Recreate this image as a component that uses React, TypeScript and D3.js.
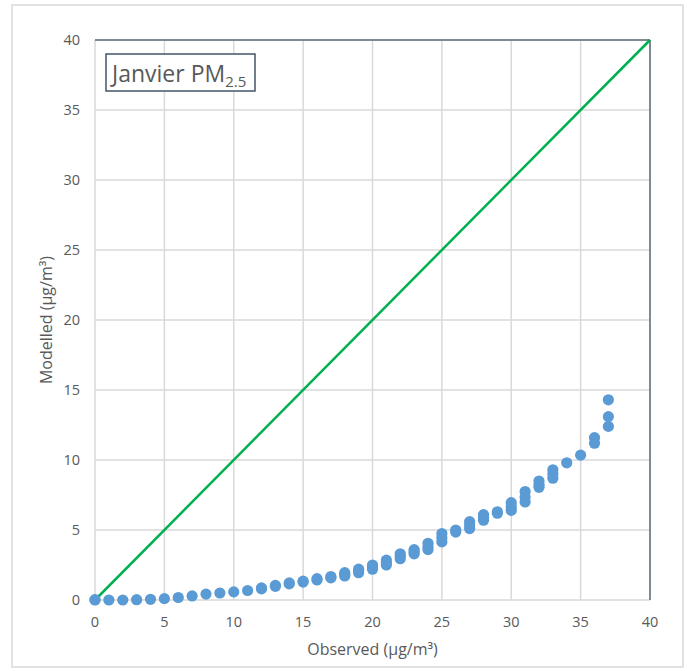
import React from "react";
import * as d3 from "d3";

const xTicks = [0, 5, 10, 15, 20, 25, 30, 35, 40];
const yTicks = [0, 5, 10, 15, 20, 25, 30, 35, 40];

const observed: number[] = [
  0, 0, 1, 2, 3, 4, 5, 6, 7, 8, 9, 10, 11,
  12, 12, 13, 13, 14, 14, 15, 15, 16, 16, 17, 17,
  18, 18, 18, 19, 19, 19, 20, 20, 20, 21, 21, 21, 22, 22, 22,
  23, 23, 23, 24, 24, 24, 25, 25, 25, 26, 26, 27, 27, 27,
  28, 28, 28, 29, 29, 30, 30, 30, 31, 31, 31, 32, 32, 32,
  33, 33, 33, 34, 35, 36, 36, 37, 37, 37,
];
const modelled: number[] = [
  0, 0.02, 0.0, 0.0, 0.02, 0.05, 0.1, 0.18, 0.29, 0.42, 0.5, 0.58, 0.68,
  0.8, 0.86, 0.98, 1.04, 1.15, 1.22, 1.28, 1.35, 1.43, 1.52, 1.58, 1.68,
  1.72, 1.83, 1.95, 1.95, 2.08, 2.2, 2.2, 2.35, 2.5, 2.5, 2.67, 2.85, 2.95, 3.12, 3.3,
  3.3, 3.45, 3.6, 3.6, 3.8, 4.05, 4.15, 4.45, 4.75, 4.85, 5.0, 5.1, 5.35, 5.6,
  5.7, 5.9, 6.1, 6.2, 6.3, 6.4, 6.65, 6.95, 7.0, 7.35, 7.75, 8.05, 8.25, 8.5,
  8.7, 9.0, 9.3, 9.8, 10.35, 11.2, 11.6, 12.4, 13.1, 14.3,
];

const lineX = [0, 40];
const lineY = [0, 40];

export default function App() {
  const W = 690, H = 671;
  const x = d3.scaleLinear().domain([0, 40]).range([95, 650]);
  const y = d3.scaleLinear().domain([0, 40]).range([600, 40]);
  const grid = "#D9D9D9";
  const txt = "#595959";
  const font = "'Open Sans', sans-serif";
  const line = d3.line<number>().x((d) => x(lineX[d])).y((d) => y(lineY[d]));

  return (
    <svg width={W} height={H} style={{ position: "absolute", left: 0, top: 0, background: "#fff" }} fontFamily={font}>
      <rect x={12} y={5} width={671} height={662} fill="#fff" stroke={grid} strokeWidth={1.5} />
      {xTicks.map((t) => (
        <line key={"gx" + t} x1={x(t)} x2={x(t)} y1={y(0)} y2={y(40)} stroke={grid} strokeWidth={1.5} />
      ))}
      {yTicks.map((t) => (
        <line key={"gy" + t} x1={x(0)} x2={x(40)} y1={y(t)} y2={y(t)} stroke={grid} strokeWidth={1.5} />
      ))}
      <line x1={x(0)} x2={x(40)} y1={y(40)} y2={y(40)} stroke="#5E6B7A" strokeWidth={1.5} />
      <line x1={x(40)} x2={x(40)} y1={y(40)} y2={y(0)} stroke="#5E6B7A" strokeWidth={1.5} />
      {xTicks.map((t) => (
        <text key={"tx" + t} x={x(t)} y={627} textAnchor="middle" fontSize={14.5} fill={txt}>{t}</text>
      ))}
      {yTicks.map((t) => (
        <text key={"ty" + t} x={80} y={y(t) + 5} textAnchor="end" fontSize={14.5} fill={txt}>{t}</text>
      ))}
      <text x={(x(0) + x(40)) / 2} y={655} textAnchor="middle" fontSize={16} fill={txt}>Observed (µg/m³)</text>
      <text transform={`translate(52,${(y(0) + y(40)) / 2}) rotate(-90)`} textAnchor="middle" fontSize={16} fill={txt}>Modelled (µg/m³)</text>
      <path d={line([0, 1]) || ""} fill="none" stroke="#00B050" strokeWidth={2.5} />
      {observed.map((o, i) => (
        <circle key={"p" + i} cx={x(o)} cy={y(modelled[i])} r={5.6} fill="#5B9BD5" />
      ))}
      <rect x={106} y={54} width={149} height={37} fill="#fff" stroke="#44546A" strokeWidth={1.5} />
      <text x={112} y={82} fontSize={23} fill={txt}>
        Janvier PM<tspan fontSize={15} dy={5}>2.5</tspan>
      </text>
    </svg>
  );
}
